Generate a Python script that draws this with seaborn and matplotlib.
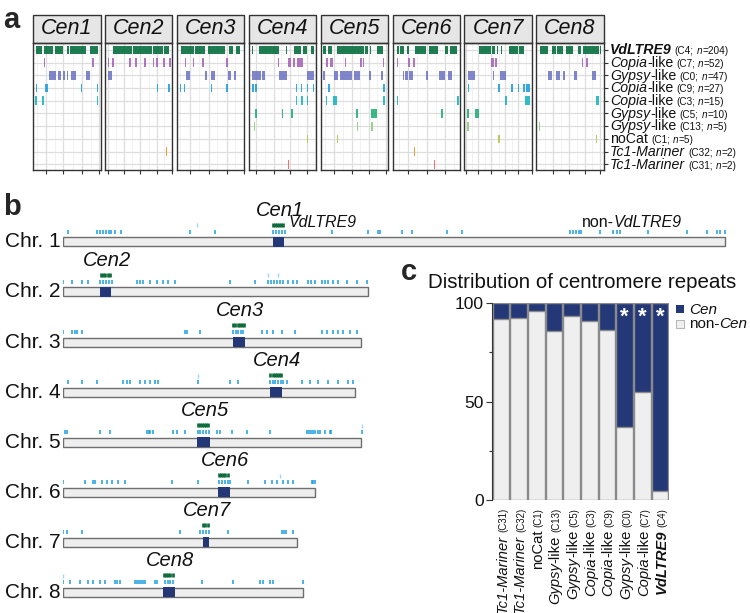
import numpy as np
import pandas as pd
import matplotlib
matplotlib.use("Agg")
import matplotlib.pyplot as plt
import seaborn as sns
from matplotlib.patches import Rectangle

# ---------------- data ----------------
# panel a: repeat clusters (rows) inside the eight centromere windows
cen_names = ["Cen1", "Cen2", "Cen3", "Cen4", "Cen5", "Cen6", "Cen7", "Cen8"]
family = ["VdLTRE9", "Copia", "Gypsy", "Copia", "Copia", "Gypsy", "Gypsy", "noCat", "Tc1-Mariner", "Tc1-Mariner"]
suffix = ["", "-like", "-like", "-like", "-like", "-like", "-like", "", "", ""]
cluster = ["C4", "C7", "C0", "C9", "C3", "C5", "C13", "C1", "C32", "C31"]
n_copies = [204, 52, 47, 27, 15, 10, 5, 5, 2, 2]
row_colors = ["#006b3a", "#a763b8", "#6f75c4", "#1c9de0", "#17b4bf",
              "#1fae75", "#8ccc80", "#b9c24f", "#e8931c", "#ee5e58"]

# segment start/end, % of each centromere window; one list per row
cen1_segs = [[(4, 14), (16, 29), (33, 45), (50, 53), (55, 79), (84, 96)],
             [(16, 17), (88, 91)],
             [(24, 34), (37, 42), (44, 48), (50, 52), (56, 64), (78, 84)],
             [(4, 4.8), (18, 22), (71, 72), (95, 96)],
             [(3.5, 5), (14, 17), (95, 96)],
             [], [], [], [], []]
cen2_segs = [[(12, 40), (41, 70), (71, 86), (87, 95)],
             [(4, 5), (11, 12), (36, 37), (45, 46), (58, 61), (71, 72), (76, 77), (86.5, 87.5), (95.5, 96.5)],
             [(5, 10)],
             [(76.5, 78), (93, 96)],
             [], [], [], [],
             [(90.5, 92)],
             []]
cen3_segs = [[(5.5, 25), (26.5, 42), (46, 50), (51, 72), (77, 83), (87, 94)],
             [(12, 13), (24, 25), (38, 39), (73, 76)],
             [(13, 19), (42, 45), (51, 57), (76, 80), (85, 87)],
             [(4, 5), (10, 11.5), (50, 51), (73, 76)],
             [], [], [], [], [], []]
cen4_segs = [[(5, 6), (15, 45), (55, 57), (67, 77), (80, 87), (92, 97)],
             [(43, 44), (58, 63), (66, 67), (71, 80)],
             [(5, 17.5), (20, 24), (45, 56), (87, 96)],
             [(5, 7.5), (10, 13), (70, 71), (77, 78), (86, 87), (95, 96)],
             [(70, 71), (78, 79), (86, 87)],
             [(9, 12), (49, 50), (62, 66)],
             [(7.5, 8.5)],
             [(86, 87)],
             [],
             [(57.5, 58.5)]]
cen5_segs = [[(4, 8), (11, 17), (25, 46), (47, 64), (66, 70), (73, 75), (83, 89), (90, 93)],
             [(8, 11.5), (14, 19), (36, 37), (59, 60), (63, 65), (92, 93)],
             [(4, 5), (20, 26), (28.7, 46), (50, 58), (71, 74), (90, 91.5)],
             [(11.5, 14), (93, 95)],
             [(8, 9), (18, 24), (93, 94)],
             [(52, 55), (75, 83)],
             [(54, 55), (75, 76)],
             [(24, 25)],
             [], []]
cen6_segs = [[(6.5, 10), (11.5, 17.5), (22, 23), (34, 49), (54, 68), (78, 82), (85, 96)],
             [(6, 7), (23.5, 24.5), (31, 33)],
             [(15, 16), (18, 23), (25, 30), (49, 53), (69, 77.5), (81.5, 88)],
             [],
             [(6, 7), (96, 97)],
             [(71.5, 75.5)],
             [], [],
             [(31.5, 32.5)],
             [(61, 62)]]
cen7_segs = [[(21, 40), (41, 46), (48.5, 49.5), (53.5, 54.5), (66, 80), (81, 89)],
             [(40, 44), (45, 49)],
             [(6, 15), (42, 43), (52, 61)],
             [(5.5, 6.5), (50.5, 51.5), (69.5, 70.5), (79.5, 80.5), (86.5, 90.5), (91.5, 97.5)],
             [(60.5, 61.5), (90.5, 97.5)],
             [(4.5, 5.5), (16, 21)],
             [(4.5, 5.5)],
             [(50.5, 51.5)],
             [], []]
cen8_segs = [[(5.5, 18), (23, 28.5), (30, 40), (44, 55), (62, 65.5), (69.5, 93), (94.5, 95.5)],
             [(67, 69.5), (74, 75)],
             [(18, 23), (28.5, 35), (39, 42), (55.5, 60.5), (82, 88)],
             [],
             [(88, 93)],
             [],
             [(3.5, 4.5)],
             [(88.5, 89.5)],
             [], []]
all_segs = [cen1_segs, cen2_segs, cen3_segs, cen4_segs, cen5_segs, cen6_segs, cen7_segs, cen8_segs]
# axis breaks of each window (% of window)
cen_breaks = [[19, 45, 72, 98.5], [4, 28, 52, 77, 100], [19, 47, 74, 100], [11.5, 37, 61, 86],
              [20, 46, 71, 97], [23, 50.5, 78], [2, 20, 40, 60, 80, 100], [25, 48.5, 72, 94]]

# panel b: chromosomes (Mb)
chr_len = [9.27, 4.27, 4.17, 4.09, 4.17, 3.53, 3.28, 3.36]
cen_start = [2.93, 0.52, 2.37, 2.89, 1.87, 2.17, 1.95, 1.40]
cen_end = [3.09, 0.67, 2.54, 3.07, 2.05, 2.33, 2.04, 1.56]
chr1_ltr = [2.93, 2.96, 2.99, 3.02, 3.05, 3.08]
chr2_ltr = [0.53, 0.56, 0.59, 0.62, 0.65]
chr3_ltr = [2.38, 2.41, 2.44, 2.47, 2.50, 2.53]
chr4_ltr = [2.90, 2.93, 2.96, 2.99, 3.02, 3.05]
chr5_ltr = [1.88, 1.91, 1.94, 1.97, 2.00, 2.03]
chr6_ltr = [2.18, 2.21, 2.24, 2.27, 2.30]
chr7_ltr = [1.96, 1.99, 2.02]
chr8_ltr = [1.41, 1.44, 1.47, 1.50, 1.53]
chr1_other = [0.07, 0.47, 0.51, 0.56, 0.60, 0.64, 0.67, 0.72, 0.81, 1.77, 2.12, 2.94, 2.98, 3.02, 3.06,
              3.10, 3.76, 4.27, 4.41, 4.44, 4.74, 4.88, 5.38, 5.59, 7.10, 7.14, 7.18, 7.22, 7.25, 7.52,
              7.70, 7.75, 7.80, 8.19, 8.73, 9.01, 9.16, 9.20, 9.27]
chr2_other = [0.0, 0.12, 0.26, 0.35, 0.52, 0.56, 0.60, 0.64, 0.68, 1.03, 1.07, 1.12, 1.21, 1.31, 1.40,
              1.47, 1.56, 2.33, 2.68, 2.87, 2.91, 2.95, 2.99, 3.03, 3.08, 3.15, 3.22, 3.27, 3.43, 3.47,
              3.52, 3.62, 3.66, 3.71, 3.78, 3.85, 3.97, 4.11, 4.25]
chr3_other = [0.0, 0.12, 0.16, 0.19, 0.26, 1.70, 1.73, 1.91, 2.38, 2.42, 2.45, 2.49, 2.52, 2.78, 2.85,
              2.94, 3.06, 3.24, 3.62, 3.69, 3.78, 3.85, 3.92, 4.02, 4.11]
chr4_other = [0.07, 0.26, 0.47, 0.84, 0.89, 0.93, 1.07, 1.14, 1.21, 1.28, 1.33, 1.89, 2.33, 2.45, 2.89,
              2.93, 2.97, 3.01, 3.05, 3.08, 3.14, 3.34, 3.46, 3.57, 3.71, 3.85, 3.99, 4.06]
chr5_other = [0.02, 0.05, 0.51, 0.65, 1.17, 1.20, 1.22, 1.26, 1.54, 1.59, 1.70, 1.88, 1.92, 1.96, 2.00,
              2.04, 2.15, 2.20, 2.36, 2.57, 2.89, 3.41, 3.44, 3.47, 3.50, 3.53, 3.57, 3.60, 3.66, 3.73,
              3.75, 4.18]
chr6_other = [0.0, 0.30, 0.42, 0.44, 0.54, 0.61, 0.68, 0.77, 0.86, 1.52, 1.89, 2.18, 2.22, 2.26, 2.30,
              2.33, 2.59, 2.82, 2.92, 2.99, 3.08, 3.15, 3.22, 3.48, 3.50, 3.53]
chr7_other = [0.0, 0.05, 0.26, 1.63, 1.91, 1.96, 2.00, 2.04, 2.31, 3.06, 3.09, 3.12, 3.22]
chr8_other = [0.0, 0.09, 0.23, 0.35, 0.42, 0.51, 0.58, 0.72, 0.75, 0.79, 1.00, 1.03, 1.06, 1.09, 1.12,
              1.14, 1.28, 1.31, 1.42, 1.46, 1.50, 1.54, 1.94, 2.38, 2.75, 2.80, 2.90, 2.93, 3.36]
faint_other = [[1.87], [2.87, 3.01], [], [1.89], [4.18], [3.03], [], [0.0]]
ltr_ticks = [chr1_ltr, chr2_ltr, chr3_ltr, chr4_ltr, chr5_ltr, chr6_ltr, chr7_ltr, chr8_ltr]
other_ticks = [chr1_other, chr2_other, chr3_other, chr4_other, chr5_other, chr6_other, chr7_other, chr8_other]

# panel c: % of copies in centromeres
c_cluster = ["C31", "C32", "C1", "C13", "C5", "C3", "C9", "C0", "C7", "C4"]
c_family = ["Tc1-Mariner", "Tc1-Mariner", "noCat", "Gypsy", "Gypsy", "Copia", "Copia", "Gypsy", "Copia", "VdLTRE9"]
c_suffix = ["", "", "", "-like", "-like", "-like", "-like", "-like", "-like", ""]
cen_pct = [8, 7.3, 3.8, 14, 6.5, 8.8, 13.6, 63, 45, 95.4]
significant = [False, False, False, False, False, False, False, True, True, True]

NAVY = "#243878"
LIGHT = "#efefef"

# ---------------- figure ----------------
sns.set_theme(style="white")
plt.rcParams["font.family"] = ["Liberation Sans", "DejaVu Sans"]
W, H = 750, 613
fig = plt.figure(figsize=(W / 100, H / 100), dpi=100)
fig.patch.set_facecolor("white")
renderer = fig.canvas.get_renderer()


def px_axes(x0, y0, x1, y1):
    return fig.add_axes([x0 / W, 1 - y1 / H, (x1 - x0) / W, (y1 - y0) / H])


def rich(x, y, parts, vertical=False):
    # chain text pieces of different size/style; horizontal: (x, y) left baseline,
    # vertical: (x, y) = baseline x and top end
    pos = y if vertical else x
    for s, size, weight, style in (parts[::-1] if vertical else parts):
        gap = 0.3 * size * 100 / 72 if s.startswith(" ") else 0
        s = s.strip()
        kw = dict(fontsize=size, fontweight=weight, fontstyle=style, va="baseline", color="#111111")
        if vertical:
            t = fig.text(x / W, 1 - pos / H, s, rotation=90, rotation_mode="anchor", ha="right", **kw)
            pos += t.get_window_extent(renderer).height + gap
        else:
            pos += gap
            t = fig.text(pos / W, 1 - y / H, s, ha="left", **kw)
            pos += t.get_window_extent(renderer).width


def label_parts(name, suf, clus, big, small, n=None):
    weight = "bold" if name == "VdLTRE9" else "normal"
    style = "normal" if name == "noCat" else "italic"
    p = [(name, big, weight, style)]
    if suf:
        p.append((suf, big, "normal", "normal"))
    if n is None:
        p.append((f" ({clus})", small, "normal", "normal"))
    else:
        p += [(f" ({clus};", small, "normal", "normal"), (" n", small, "normal", "italic"),
              (f"={n})", small, "normal", "normal")]
    return p


# ---- panel a ----
fig.text(3 / W, 1 - 28 / H, "a", fontsize=21, fontweight="bold", va="baseline")
top, bot = 43, 170
for i, name in enumerate(cen_names):
    L = 33 + 71.9 * i
    ax = px_axes(L, top, L + 67.5, bot)
    ax.set_xlim(0, 100)
    ax.set_ylim(10.45, 0.45)
    br = cen_breaks[i]
    step = br[1] - br[0]
    minor = [b - step / 2 for b in br] + [br[-1] + step / 2]
    ax.vlines([m for m in minor if 0 < m < 100], 0.45, 10.45, color="#f0f0f0", lw=0.6, zorder=0)
    ax.vlines(br, 0.45, 10.45, color="#dedede", lw=0.9, zorder=0)
    ax.hlines(range(1, 11), 0, 100, color="#dedede", lw=0.9, zorder=0)
    for r, segs in enumerate(all_segs[i]):
        if segs:
            ax.broken_barh([(s, max(e - s, 2.0)) for s, e in segs], (r + 1 - 0.34, 0.68),
                           facecolors=row_colors[r], alpha=0.88, lw=0, zorder=2)
    ax.set_xticks(br)
    ax.tick_params(axis="x", bottom=True, length=3, width=0.8, color="#333333", labelbottom=False)
    if i == 7:
        ax.yaxis.tick_right()
        ax.set_yticks(range(1, 11))
        ax.tick_params(axis="y", right=True, length=3, width=0.8, color="#333333", labelright=False)
    else:
        ax.set_yticks([])
    for sp in ax.spines.values():
        sp.set_color("#333333")
        sp.set_linewidth(1.0)
    hh = 28 / (bot - top)
    ax.add_patch(Rectangle((0, 1), 1, hh, transform=ax.transAxes, clip_on=False,
                           fc="#e6e6e6", ec="#333333", lw=1.0))
    ax.text(0.5, 1 + hh / 2, name, transform=ax.transAxes, ha="center", va="center",
            fontsize=15.5, fontstyle="italic", color="#111111")

for r in range(10):
    y_row = top + (r + 1 - 0.45) / 10 * (bot - top)
    rich(610, y_row + 4.3, label_parts(family[r], suffix[r], cluster[r], 10.2, 7.2, n_copies[r]))

# ---- panel b ----
fig.text(3 / W, 1 - 215 / H, "b", fontsize=21, fontweight="bold", va="baseline")
PXMB = 71.4
axb = px_axes(63.3, 190, 740, 612)
axb.set_xlim(0, (740 - 63.3) / PXMB)
axb.set_ylim(8.4, -0.04)
axb.axis("off")
for k in range(8):
    y = k + 1
    axb.add_patch(Rectangle((0, y - 0.09), chr_len[k], 0.18, fc="#eeeeee", ec="#6e6e6e", lw=1.0, zorder=2))
    axb.add_patch(Rectangle((cen_start[k], y - 0.095), cen_end[k] - cen_start[k], 0.19,
                            fc=NAVY, ec="none", zorder=3))
    axb.vlines(other_ticks[k], y - 0.245, y - 0.165, color="#1b9fe2", lw=1.3, alpha=0.85)
    axb.vlines(faint_other[k], y - 0.37, y - 0.29, color="#9fd6f2", lw=1.0)
    axb.vlines(ltr_ticks[k], y - 0.38, y - 0.30, color="#0b6a38", lw=1.9)
    axb.text(-0.04, y, f"Chr. {k + 1}", ha="right", va="center", fontsize=15, color="#111111")
    axb.text((cen_start[k] + cen_end[k]) / 2 + 0.02, y - 0.62, cen_names[k], ha="center", va="center",
             fontsize=14.5, fontstyle="italic", color="#111111")
rich(289, 227, [("VdLTRE9", 11.5, "normal", "italic")])
rich(582, 227, [("non-", 11.5, "normal", "normal"), ("VdLTRE9", 11.5, "normal", "italic")])

# ---- panel c ----
fig.text(401 / W, 1 - 280 / H, "c", fontsize=21, fontweight="bold", va="baseline")
fig.text(428 / W, 1 - 288 / H, "Distribution of centromere repeats", fontsize=14.8, va="baseline",
         color="#111111")
cdf = pd.DataFrame({"cluster": c_cluster, "cen": cen_pct})
cdf["non_cen"] = 100 - cdf["cen"]
cdf["total"] = 100
axc = px_axes(492, 303.3, 669, 500)
sns.barplot(data=cdf, x="cluster", y="total", color=NAVY, saturation=1, width=0.94,
            edgecolor="#8a8a8a", linewidth=1.0, errorbar=None, ax=axc)
sns.barplot(data=cdf, x="cluster", y="non_cen", color=LIGHT, saturation=1, width=0.94,
            edgecolor="#8a8a8a", linewidth=1.0, errorbar=None, ax=axc)
axc.set_xlim(-0.5, 9.5)
axc.set_ylim(0, 100)
axc.set_xlabel("")
axc.set_ylabel("")
axc.set_xticks([])
axc.set_yticks([0, 50, 100])
axc.set_yticks([25, 75], minor=True)
axc.tick_params(axis="y", which="both", left=True, length=4, width=0.8, color="#333333",
                labelsize=12.5, labelcolor="#111111", pad=2)
axc.tick_params(axis="y", which="minor", length=2.5)
sns.despine(ax=axc, bottom=True)
axc.spines["left"].set_color("#333333")
axc.spines["left"].set_linewidth(0.8)
for i, sig in enumerate(significant):
    if sig:
        axc.text(i, 93, "*", ha="center", va="center", color="white", fontsize=16, fontweight="bold")
bw = (669 - 492) / 10
for i in range(10):
    rich(492 + (i + 0.5) * bw + 5.5, 508, label_parts(c_family[i], c_suffix[i], c_cluster[i], 10.6, 7),
         vertical=True)

# legend
fig.add_artist(Rectangle((676 / W, 1 - 313 / H), 8 / W, 8 / H, fc=NAVY, ec="none"))
fig.add_artist(Rectangle((676 / W, 1 - 328 / H), 8 / W, 8 / H, fc=LIGHT, ec="#aaaaaa", lw=0.6))
rich(689, 313.5, [("Cen", 11, "normal", "italic")])
rich(689, 328, [("non-", 11, "normal", "normal"), ("Cen", 11, "normal", "italic")])

fig.savefig("out.png", dpi=100, facecolor="white")
